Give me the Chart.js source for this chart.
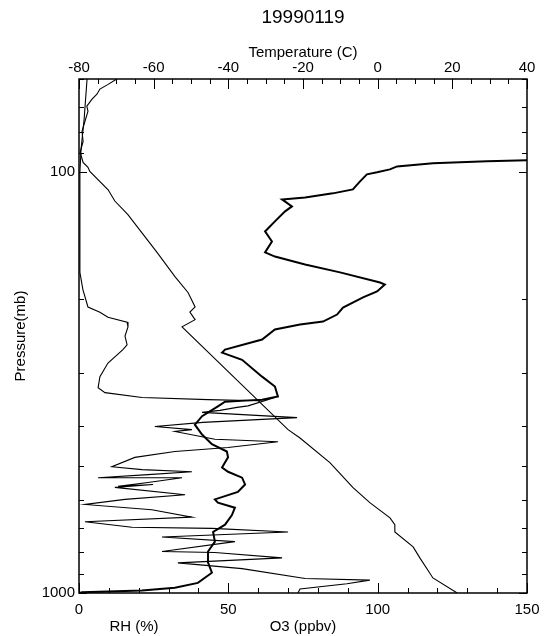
<!DOCTYPE html>
<html>
<head>
<meta charset="utf-8">
<title>19990119</title>
<script src="https://cdn.jsdelivr.net/npm/chart.js@4.4.1/dist/chart.umd.min.js"></script>
<style>
  html, body { margin: 0; padding: 0; background: #fff; }
  #wrap { width: 548px; height: 636px; }
</style>
</head>
<body>
<div id="wrap"><canvas id="sonde" width="548" height="636"></canvas></div>
<script>
// sounding of 1999-01-19 (pressure in mb)
const tempP = [60, 61.8, 63.4, 65.2, 67, 69.6, 71.6, 75.6, 79.9, 84.4, 89.6, 94.7, 97.3, 99.5,
  110, 117, 126, 155, 177, 193, 209, 215, 224, 233, 409, 428, 490, 562, 610, 663, 688, 716,
  777, 825, 921, 1000];
const tempC = [-69.9, -72.2, -74.4, -75.2, -76.5, -77.9, -77.6, -78.4, -79.2, -78.9, -79.7, -78.9, -77.6, -77.1,
  -72.2, -70.4, -66.9, -59.1, -54.3, -50.8, -48.9, -50.3, -48.9, -52.4, -24.0, -20.8, -12.8, -6.6, -2.1, 3.3, 4.6, 4.6,
  9.5, 11.3, 14.8, 21.3];

const rhP = [60, 75, 88, 100, 137, 173, 190, 209, 215, 221, 227, 233, 245, 257, 264, 284, 306, 325, 334,
  343, 347, 349, 343, 359, 362, 368, 372, 383, 393, 402, 409, 413, 431, 437, 451, 461, 476, 501, 509,
  515, 523, 532, 532, 546, 558, 552, 561, 584, 599, 616, 634, 660, 677, 698, 702, 716, 736, 755, 797,
  801, 825, 848, 875, 924, 932, 951, 978, 1000];
const rhPct = [2.7, 1.7, 0.7, 0.3, 0.3, 0.3, 1.3, 3.0, 7.0, 9.7, 16.1, 16.4, 15.4, 16.1, 14.7, 9.7, 7.0, 6.4, 8.7,
  21.1, 43.2, 59.9, 65.6, 56.6, 52.9, 47.2, 41.2, 73, 41.5, 25.4, 37.8, 32.1, 45.5, 66.6, 49.9, 32.1, 18.7, 11, 21.1,
  37.8, 23.1, 6.4, 34.5, 23.1, 13.1, 24.8, 12, 35.5, 15.4, 2, 24.4, 37.8, 2, 17.7, 44.5, 70, 27.8, 52.2, 27.8,
  45.5, 68, 33.1, 54.6, 75.7, 97.4, 89.7, 74, 73.3];

const o3P = [93.6, 94.1, 95.2, 96.8, 98.4, 100, 101.1, 105.1, 109.8, 112.2, 114.7, 116, 120.5, 123.8, 130.8,
  138.2, 146, 155, 158.6, 165.6, 172.9, 182.8, 184.9, 192, 198.3, 209.6, 217.8, 226.3, 230, 236.4, 249.8,
  263.9, 268.3, 279, 306, 323, 341, 347, 351, 360, 380, 398, 420, 443, 461, 476, 503, 515, 532, 552, 575,
  599, 610, 627, 653, 688, 716, 755, 797, 846, 895, 946, 972, 987, 996, 1000];
const o3Ppbv = [150, 136.6, 118.5, 106.5, 104.1, 99.8, 96.4, 94.1, 91.7, 85, 75.7, 68, 71.3, 69, 65.6,
  62.3, 64.6, 62.3, 65.6, 75.7, 87.4, 100.8, 102.4, 99.8, 95.1, 88.4, 86.4, 81.7, 74, 65.6, 61.3,
  48.9, 47.9, 54.6, 61.3, 65.6, 66.6, 61.3, 48.9, 46.5, 41.2, 38.8, 41.2, 44.5, 49.5, 49.9, 47.9, 49.9, 54.6, 55.6, 53.2,
  45.5, 46.5, 52.2, 51.2, 48.9, 44.9, 45.5, 43.2, 43.2, 44.5, 39.8, 32.1, 21.1, 1, 0.3];

const pressureTicks = [100, 1000];
const bottomTicks = [0, 50, 100, 150];
const tempTicks = [-80, -60, -40, -20, 0, 20, 40];

function pairs(xs, ps) {
  return xs.map((v, i) => ({ x: v, y: ps[i] }));
}

Chart.defaults.font.family = '"Liberation Sans", Arial, sans-serif';
Chart.defaults.font.size = 15;
Chart.defaults.color = '#000';

// frame, inward tick marks and the bottom titles
const frameTicks = {
  id: 'frameTicks',
  afterDatasetsDraw(chart) {
    const { ctx, chartArea: a, scales } = chart;
    ctx.save();
    ctx.strokeStyle = '#000';
    ctx.lineWidth = 1;
    ctx.beginPath();
    for (let v = 0; v <= 150; v += 10) {
      const x = Math.round(scales.x.getPixelForValue(v)) + 0.5;
      const len = v % 50 === 0 ? 10 : 5;
      ctx.moveTo(x, a.bottom);
      ctx.lineTo(x, a.bottom - len);
    }
    for (let v = -80; v <= 40; v += 5) {
      const x = Math.round(scales.xT.getPixelForValue(v)) + 0.5;
      const len = v % 20 === 0 ? 10 : 5;
      ctx.moveTo(x, a.top);
      ctx.lineTo(x, a.top + len);
    }
    const pTicks = [60, 70, 80, 90, 100, 200, 300, 400, 500, 600, 700, 800, 900, 1000];
    pTicks.forEach(p => {
      const y = Math.round(scales.y.getPixelForValue(p)) + 0.5;
      const len = (p === 100 || p === 1000) ? 8 : 5;
      ctx.moveTo(a.left, y);
      ctx.lineTo(a.left + len, y);
      ctx.moveTo(a.right, y);
      ctx.lineTo(a.right - len, y);
    });
    ctx.stroke();
    ctx.lineWidth = 1.5;
    ctx.strokeRect(a.left, a.top, a.right - a.left, a.bottom - a.top);

    ctx.fillStyle = '#000';
    ctx.font = '15px "Liberation Sans", Arial, sans-serif';
    ctx.textAlign = 'center';
    ctx.textBaseline = 'middle';
    ctx.fillText('RH (%)', 134, 627);
    ctx.fillText('O3 (ppbv)', 303, 627);
    ctx.restore();
  }
};

new Chart(document.getElementById('sonde'), {
  type: 'scatter',
  data: {
    datasets: [
      {
        label: 'Temperature',
        data: pairs(tempC, tempP),
        xAxisID: 'xT',
        yAxisID: 'y',
        borderColor: '#000',
        borderWidth: 1.1
      },
      {
        label: 'RH',
        data: pairs(rhPct, rhP),
        xAxisID: 'x',
        yAxisID: 'y',
        borderColor: '#000',
        borderWidth: 1.1
      },
      {
        label: 'O3',
        data: pairs(o3Ppbv, o3P),
        xAxisID: 'x',
        yAxisID: 'y',
        borderColor: '#000',
        borderWidth: 2
      }
    ]
  },
  options: {
    responsive: false,
    animation: false,
    showLine: true,
    elements: {
      point: { radius: 0, hoverRadius: 0 },
      line: { tension: 0 }
    },
    layout: { padding: { left: 0, right: 21, top: 0, bottom: 0 } },
    plugins: {
      legend: { display: false },
      tooltip: { enabled: false },
      title: {
        display: true,
        text: '19990119',
        fullSize: false,
        font: { size: 19, weight: 'normal', lineHeight: 1 },
        padding: { top: 8, bottom: 0 }
      }
    },
    scales: {
      x: {
        type: 'linear',
        position: 'bottom',
        min: 0,
        max: 150,
        grid: { display: false, drawTicks: false },
        border: { display: false },
        afterBuildTicks: s => { s.ticks = bottomTicks.map(v => ({ value: v })); },
        ticks: { padding: 8, maxRotation: 0, autoSkip: false },
        afterFit: s => { s.height = 43; }
      },
      xT: {
        type: 'linear',
        position: 'top',
        min: -80,
        max: 40,
        grid: { display: false, drawTicks: false },
        border: { display: false },
        afterBuildTicks: s => { s.ticks = tempTicks.map(v => ({ value: v })); },
        ticks: { padding: 2, maxRotation: 0, autoSkip: false },
        title: { display: true, text: 'Temperature (C)', padding: { top: 17, bottom: 0 } },
        afterFit: s => { s.height = 52; }
      },
      y: {
        type: 'logarithmic',
        position: 'left',
        reverse: true,
        min: 60,
        max: 1000,
        grid: { display: false, drawTicks: false },
        border: { display: false },
        afterBuildTicks: s => { s.ticks = pressureTicks.map(v => ({ value: v })); },
        ticks: { padding: 4, autoSkip: false, callback: v => String(v) },
        title: { display: true, text: 'Pressure(mb)', padding: { top: 12, bottom: 0 } },
        afterFit: s => { s.width = 79; }
      }
    }
  },
  plugins: [frameTicks]
});
</script>
</body>
</html>
